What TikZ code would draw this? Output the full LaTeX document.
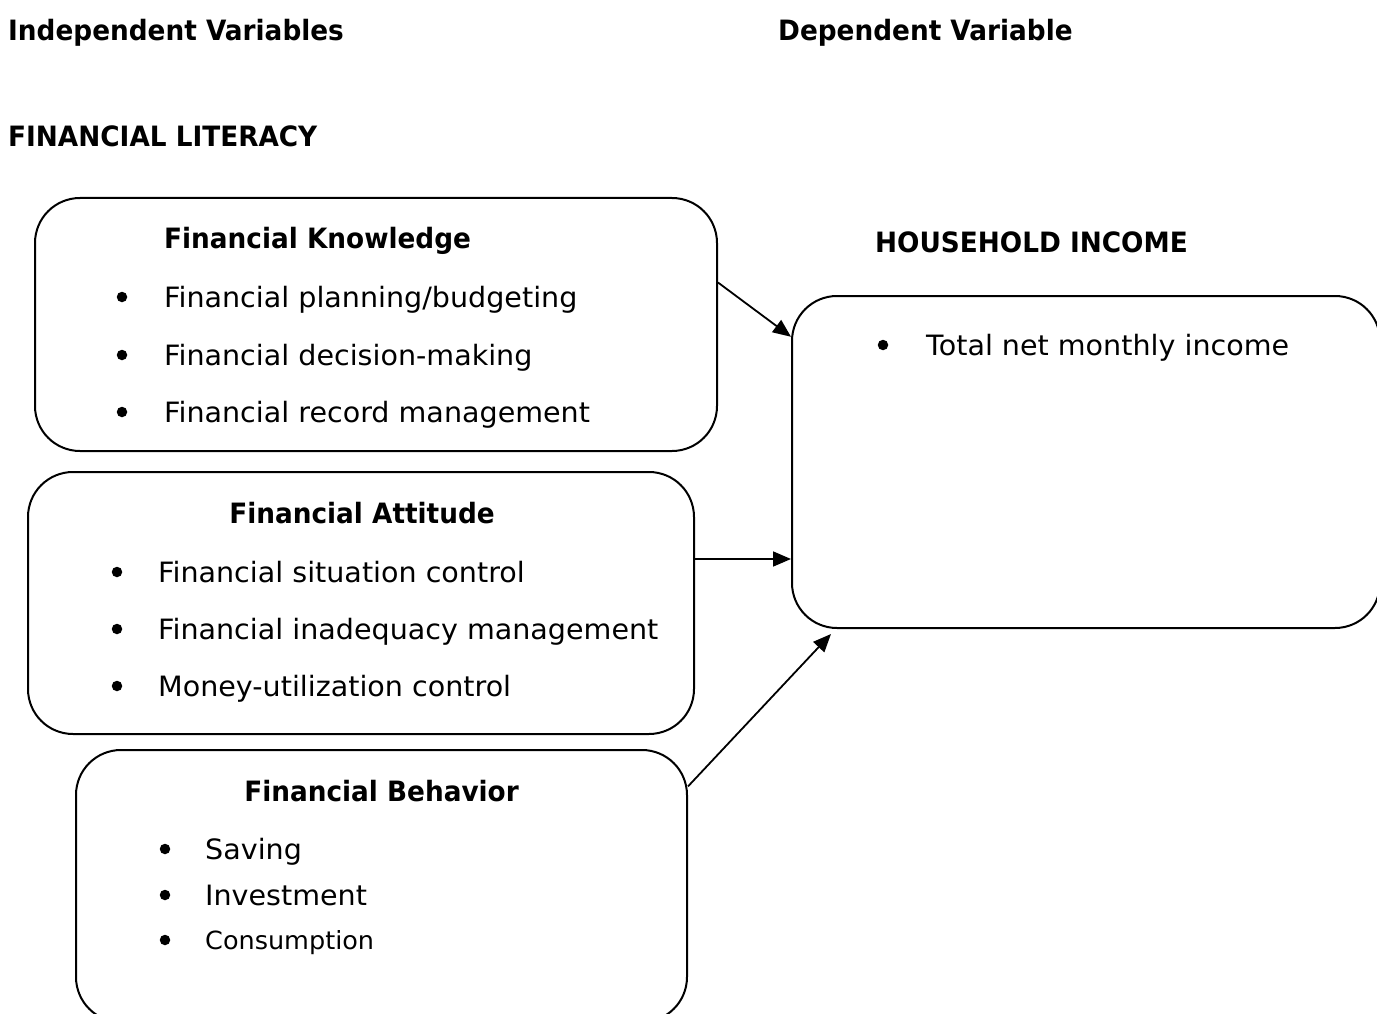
\documentclass[tikz,border=0pt]{standalone}
\usepackage{fontspec}
\setmainfont{DejaVu Sans}[FakeStretch=1.02]
\newfontfamily\headfont{DejaVu Sans}[FakeStretch=0.94]
\usetikzlibrary{arrows.meta}

\begin{document}
\begin{tikzpicture}[x=1pt,y=-1pt,
  box/.style={draw, line width=2pt, rounded corners=45pt, inner sep=0pt},
  txt/.style={anchor=base west, inner sep=0pt, font=\fontsize{28}{34}\selectfont},
  ctxt/.style={anchor=base, inner sep=0pt, font=\fontsize{28}{34}\selectfont\headfont\bfseries},
  hdr/.style={anchor=base west, inner sep=0pt, font=\fontsize{28}{34}\selectfont\headfont\bfseries},
  dot/.style={circle, fill, inner sep=0pt, minimum size=10.5pt},
  arr/.style={line width=1.8pt, -{Triangle[length=18pt,width=15pt]}}]
\useasboundingbox (0,0) rectangle (1377,1014);

% headings
\node[hdr] (indep) at (8,41) {Independent Variables};
\node[hdr] (dep) at (778,41) {Dependent Variable};
\node[hdr] (lit) at (8,147) {FINANCIAL LITERACY};
\node[hdr] (hh) at (875,252) {HOUSEHOLD INCOME};

% boxes
\node[box, minimum width=682pt, minimum height=253pt] (know) at (376,324.5) {};
\node[box, minimum width=666pt, minimum height=262pt] (att) at (361,603) {};
\node[box, minimum width=611pt, minimum height=272pt] (beh) at (381.5,886) {};
\node[box, minimum width=588pt, minimum height=332pt] (inc) at (1086,462) {};

% financial knowledge
\node[hdr] (kt) at (164,248) {Financial Knowledge};
\node[dot] (kb1) at (122,297) {};
\node[txt] (k1) at (164,307) {Financial planning/budgeting};
\node[dot] (kb2) at (122,355) {};
\node[txt] (k2) at (164,365) {Financial decision-making};
\node[dot] (kb3) at (122,412) {};
\node[txt] (k3) at (164,422) {Financial record management};

% financial attitude
\node[ctxt] (at) at (362,523) {Financial Attitude};
\node[dot] (ab1) at (117,572) {};
\node[txt] (a1) at (158,582) {Financial situation control};
\node[dot] (ab2) at (117,629) {};
\node[txt] (a2) at (158,639) {Financial inadequacy management};
\node[dot] (ab3) at (117,686) {};
\node[txt] (a3) at (158,696) {Money-utilization control};

% financial behavior
\node[ctxt] (bt) at (381.5,801) {Financial Behavior};
\node[dot] (bb1) at (165,849) {};
\node[txt] (b1) at (205,859) {Saving};
\node[dot] (bb2) at (165,895) {};
\node[txt] (b2) at (205,905) {Investment};
\node[dot] (bb3) at (165,940) {};
\node[txt, font=\fontsize{25}{30}\selectfont] (b3) at (205,949) {Consumption};

% household income
\node[dot] (ib1) at (883,345) {};
\node[txt] (i1) at (926,355) {Total net monthly income};

% connectors
\coordinate (ya) at (0,559);
\coordinate (tipc) at (831,634);
\draw[arr] (know.7.27) -- (inc.157.5);
\draw[arr] (att.east |- ya) -- (inc.west |- ya);
\draw[arr] (beh.18.7) -- (tipc);
\end{tikzpicture}
\end{document}
